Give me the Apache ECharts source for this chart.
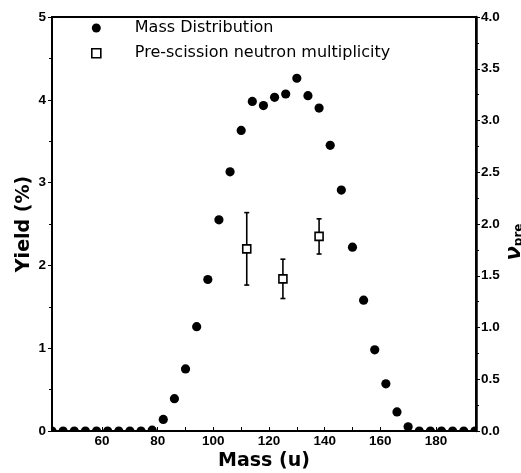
<!DOCTYPE html>
<html>
<head>
<meta charset="utf-8">
<script src="https://cdn.jsdelivr.net/npm/echarts@6/dist/echarts.min.js"></script>
<style>html,body{margin:0;padding:0;background:#fff}#c{width:521px;height:473px}</style>
</head>
<body>
<div id="c"></div>
<script>
// Mass distribution (left axis, Yield %)
const massNumbers = [42,46,50,54,58,62,66,70,74,78,82,86,90,94,98,102,106,110,114,118,122,126,130,134,138,142,146,150,154,158,162,166,170,174,178,182,186,190,194];
const yieldValues = [0,0,0,0,0,0,0,0,0,0.01,0.14,0.39,0.75,1.26,1.83,2.55,3.13,3.63,3.98,3.93,4.03,4.07,4.26,4.05,3.90,3.45,2.91,2.22,1.58,0.98,0.57,0.23,0.05,0,0,0,0,0,0];
// Pre-scission neutron multiplicity (right axis)
const nuMass = [112,125,138];
const nuValues = [1.76,1.47,1.88];
const nuErrors = [0.35,0.19,0.17];
// Tick labels
const xLabelValues = [60,80,100,120,140,160,180];
const xTickValues = [50,60,70,80,90,100,110,120,130,140,150,160,170,180,190];

const chart = echarts.init(document.getElementById('c'), null, {renderer:'canvas'});
const tickFont = {fontFamily:'Liberation Sans', fontWeight:'bold', fontSize:13.5, color:'#000'};

chart.setOption({
  animation:false,
  backgroundColor:'#fff',
  grid:{left:52, top:17, right:45, bottom:42, show:true, borderColor:'#000', borderWidth:2, backgroundColor:'transparent', outerBoundsMode:'none', containLabel:false},
  legend:{
    orient:'vertical', left:91, top:20, padding:0, itemWidth:9, itemHeight:9, itemGap:9.2,
    textStyle:{fontFamily:'DejaVu Sans', fontSize:16, color:'#000', padding:[0,0,0,29]},
    data:[
      {name:'Mass Distribution', icon:'circle', itemStyle:{color:'#000'}},
      {name:'Pre-scission neutron multiplicity', icon:'rect', itemStyle:{color:'#fff', borderColor:'#000', borderWidth:1.6}}
    ]
  },
  xAxis:{
    type:'value', min:42, max:194.4,
    name:'Mass (u)', nameLocation:'middle', nameGap:21, nameMoveOverlap:false,
    nameTextStyle:{fontFamily:'DejaVu Sans', fontWeight:'bold', fontSize:19, color:'#000'},
    axisLine:{lineStyle:{color:'#000', width:2}},
    axisTick:{inside:true, length:4, lineStyle:{color:'#000', width:1}, customValues:xTickValues},
    axisLabel:Object.assign({margin:3, customValues:xLabelValues}, tickFont),
    splitLine:{show:false}
  },
  yAxis:[
    {
      type:'value', min:0, max:5, interval:1, position:'left',
      name:'Yield (%)', nameLocation:'middle', nameRotate:90, nameGap:18, nameMoveOverlap:false,
      nameTextStyle:{fontFamily:'DejaVu Sans', fontWeight:'bold', fontSize:19, color:'#000'},
      axisLine:{show:true, lineStyle:{color:'#000', width:2}},
      axisTick:{show:true, length:4, lineStyle:{color:'#000', width:1}},
      minorTick:{show:true, splitNumber:2, length:3, lineStyle:{color:'#000', width:1}},
      axisLabel:Object.assign({margin:6}, tickFont),
      splitLine:{show:false}
    },
    {
      type:'value', min:0, max:4, interval:0.5, position:'right',
      name:'{nu|ν}{sub|pre}', nameLocation:'middle', nameRotate:90, nameGap:28, nameMoveOverlap:false,
      nameTextStyle:{
        padding:[0,36,0,0],
        rich:{
          nu:{fontFamily:'DejaVu Sans', fontStyle:'italic', fontWeight:'bold', fontSize:21, color:'#000'},
          sub:{fontFamily:'DejaVu Sans', fontWeight:'bold', fontSize:12, color:'#000', padding:[8,0,0,0]}
        }
      },
      axisLine:{show:true, lineStyle:{color:'#000', width:2.5}},
      axisTick:{show:true, length:4, lineStyle:{color:'#000', width:1}},
      minorTick:{show:true, splitNumber:2, length:3, lineStyle:{color:'#000', width:1}},
      axisLabel:Object.assign({margin:5, formatter:v=>v.toFixed(1)}, tickFont),
      splitLine:{show:false}
    }
  ],
  series:[
    {
      name:'Mass Distribution', type:'custom', clip:true, xAxisIndex:0, yAxisIndex:0,
      itemStyle:{color:'#000'},
      encode:{x:0, y:1},
      data:massNumbers.map((m,i)=>[m, yieldValues[i]]),
      renderItem:(params, api)=>{
        const p = api.coord([api.value(0), api.value(1)]);
        return {type:'circle', shape:{cx:p[0], cy:p[1], r:4.6}, style:{fill:'#000'}};
      },
      z:3
    },
    {
      name:'errbars', type:'custom', clip:true, xAxisIndex:0, yAxisIndex:1,
      encode:{x:0, y:[1,2]},
      data:nuMass.map((m,i)=>[m, nuValues[i]-nuErrors[i], nuValues[i]+nuErrors[i]]),
      renderItem:(params, api)=>{
        const lo = api.coord([api.value(0), api.value(1)]);
        const hi = api.coord([api.value(0), api.value(2)]);
        const w = 2.5;
        const st = {stroke:'#000', lineWidth:1.6};
        return {type:'group', children:[
          {type:'line', shape:{x1:lo[0], y1:lo[1], x2:hi[0], y2:hi[1]}, style:st},
          {type:'line', shape:{x1:lo[0]-w, y1:lo[1], x2:lo[0]+w, y2:lo[1]}, style:st},
          {type:'line', shape:{x1:hi[0]-w, y1:hi[1], x2:hi[0]+w, y2:hi[1]}, style:st}
        ]};
      },
      z:3
    },
    {
      name:'Pre-scission neutron multiplicity', type:'scatter', xAxisIndex:0, yAxisIndex:1,
      symbol:'rect', symbolSize:8,
      itemStyle:{color:'#fff', borderColor:'#000', borderWidth:1.6, opacity:1},
      data:nuMass.map((m,i)=>[m, nuValues[i]]),
      z:4
    }
  ]
});
</script>
</body>
</html>
